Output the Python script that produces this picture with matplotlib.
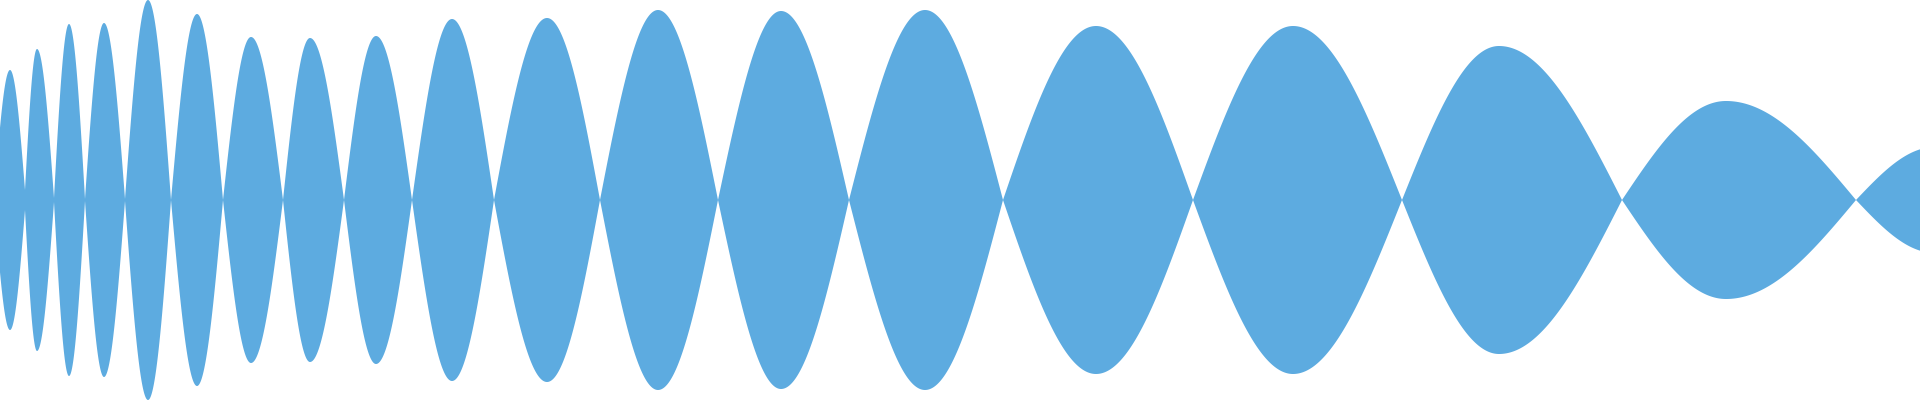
import numpy as np
import matplotlib
matplotlib.use("Agg")
import matplotlib.pyplot as plt

# waveform envelope (x in samples 0..1920, amplitude 0..1)
nodes = [-6, 25, 54, 85, 125, 171, 223, 283, 344, 412, 494, 600, 718,
         849, 1003, 1193, 1402, 1622, 1856, 2030]
node_floor = [0.0, 0.05, 0.01, 0.005, 0.005, 0.0, 0.0, 0.0, 0.0, 0.0, 0.0,
              0.0, 0.0, 0.0, 0.0, 0.0, 0.0, 0.0, 0.0, 0.0]
peak_x = [10, 37, 69, 104, 148, 197, 251, 310, 376, 452, 547, 658, 781,
          925, 1096, 1293, 1499, 1726, 1935]
peak_amp = [0.65, 0.755, 0.88, 0.885, 1.0, 0.93, 0.815, 0.81, 0.82, 0.905,
            0.91, 0.95, 0.945, 0.95, 0.87, 0.87, 0.77, 0.495, 0.265]

color = "#5dabe0"

xs = []
env = []
for i in range(len(peak_x)):
    a, b, p = nodes[i], nodes[i + 1], peak_x[i]
    fa, fb, A = node_floor[i], node_floor[i + 1], peak_amp[i]
    x = np.linspace(a, b, 200)
    # warp so the lobe top sits at the peak position
    t = np.where(x <= p, 0.5 * (x - a) / (p - a), 0.5 + 0.5 * (x - p) / (b - p))
    base = np.where(x <= p, fa, fb)
    y = base + (A - base) * np.sin(np.pi * t)
    xs.append(x)
    env.append(y)

xs = np.concatenate(xs)
env = np.concatenate(env)

fig = plt.figure(figsize=(19.2, 4), dpi=100)
ax = fig.add_axes([0, 0, 1, 1])
ax.fill_between(xs, -env, env, color=color, linewidth=0)
ax.set_xlim(0, 1920)
ax.set_ylim(-1, 1)
ax.axis("off")
fig.savefig("out.png", dpi=100, facecolor="white")
